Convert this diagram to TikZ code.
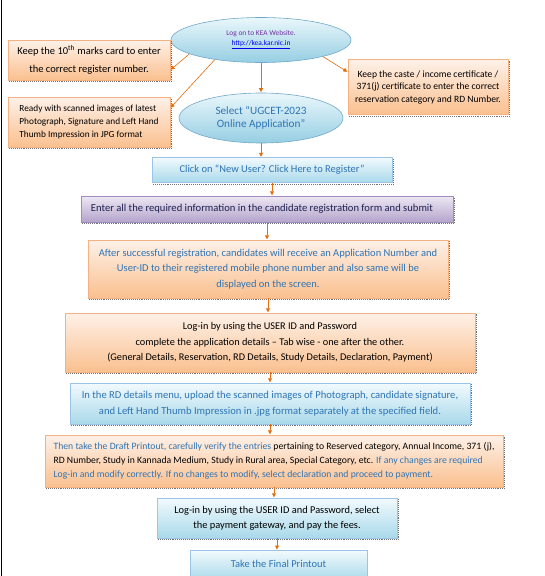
\documentclass[tikz,border=0pt]{standalone}
\usepackage{fontspec}
\setmainfont{Carlito}
\usetikzlibrary{shapes.geometric,arrows.meta,calc}
\definecolor{txtblue}{HTML}{2E74B5}
\definecolor{txtpurple}{HTML}{7030A0}
\definecolor{linkblue}{HTML}{0000EE}
\definecolor{arrorange}{HTML}{E46C0A}
\definecolor{otop}{HTML}{FEF1E8}
\definecolor{obot}{HTML}{FAC08F}
\definecolor{odraw}{HTML}{F4B183}
\definecolor{btop}{HTML}{F2FAFD}
\definecolor{bbot}{HTML}{A9D9EA}
\definecolor{bdraw}{HTML}{9DC3E6}
\definecolor{ptop}{HTML}{EDE8F3}
\definecolor{pbot}{HTML}{B4A4CB}
\definecolor{pdraw}{HTML}{A08CC0}
\definecolor{ptext}{HTML}{1F1F4F}
\definecolor{etop}{HTML}{EAF7FB}
\definecolor{ebot}{HTML}{96CEE3}
\definecolor{edraw}{HTML}{6FA8C8}
\newcommand\boxshadow[1]{%
  \draw[shadowline] ($(#1.south west)+(1.5,1.2)$) -- ($(#1.south east)+(1.2,1.2)$) -- ($(#1.north east)+(1.2,1.5)$);}
\begin{document}
\begin{tikzpicture}[x=1pt,y=-1pt,
  base/.style={rectangle, inner sep=0pt, align=center, line width=0.5pt},
  obox/.style={base, draw=odraw, top color=otop, bottom color=obot},
  bbox/.style={base, draw=bdraw, top color=btop, bottom color=bbot},
  pbox/.style={base, draw=pdraw, top color=ptop, bottom color=pbot},
  ell/.style={ellipse, inner sep=0pt, align=center, draw=edraw, line width=0.6pt, top color=etop, bottom color=ebot},
  shadowline/.style={densely dotted, line width=0.9pt, black!55},
  arr/.style={draw=arrorange, line width=0.6pt, -{Triangle[width=4pt,length=4pt]}, shorten >=0.5pt},
  bodyfont/.style={font=\fontsize{10.5}{15.5}\selectfont}
]
\useasboundingbox (0,0) rectangle (544,576);
\clip (0,0) rectangle (544,576);
\draw[black, line width=1pt] (1.5,0) -- (1.5,576);

% top ellipses
\node[ell, minimum width=180, minimum height=45, font=\fontsize{7.4}{10}\selectfont] (e1) at (261,40)
  {\textcolor{txtpurple}{Log on to KEA Website.}\\ \textcolor{linkblue}{\underline{http://kea.kar.nic.in}}};
\node[ell, minimum width=164, minimum height=50, font=\fontsize{11.2}{12.5}\selectfont, text=txtblue] (e2) at (261,118)
  {Select “UGCET-2023\\Online Application”};

% side boxes
\node[obox, minimum width=162, minimum height=40, font=\fontsize{10.5}{18}\selectfont] (a) at (89,60)
  {Keep the 10\textsuperscript{th} marks card to enter\\the correct register number.};
\boxshadow{a}
\node[obox, minimum width=162, minimum height=50, font=\fontsize{9.3}{13}\selectfont, align=left] (b) at (89,122)
  {Ready with scanned images of latest\\Photograph, Signature and Left Hand\\Thumb Impression in JPG format};
\boxshadow{b}
\node[obox, minimum width=160, minimum height=55, font=\fontsize{9.6}{12.5}\selectfont] (c) at (428,87)
  {Keep the caste / income certificate /\\371(j) certificate to enter the correct\\reservation category and RD Number.};
\boxshadow{c}

% main column
\node[bbox, minimum width=240, minimum height=25, bodyfont, text=txtblue] (d) at (272,170)
  {Click on “New User? Click Here to Register”};
\boxshadow{d}
\node[pbox, minimum width=372, minimum height=26, font=\fontsize{10.6}{15}\selectfont, text=ptext] (e) at (267,209)
  {\hspace*{-10pt}Enter all the required information in the candidate registration form and submit};
\boxshadow{e}
\node[obox, minimum width=360, minimum height=58, bodyfont, text=txtblue] (f) at (268,269)
  {After successful registration, candidates will receive an Application Number and\\User-ID to their registered mobile phone number and also same will be\\displayed on the screen.};
\boxshadow{f}
\node[obox, minimum width=410, minimum height=59, font=\fontsize{10.3}{15.5}\selectfont] (g) at (270,342.5)
  {Log-in by using the USER ID and Password\\complete the application details – Tab wise - one after the other.\\(General Details, Reservation, RD Details, Study Details, Declaration, Payment)};
\boxshadow{g}
\node[bbox, minimum width=400, minimum height=41, font=\fontsize{10.6}{16}\selectfont, text=txtblue] (h) at (270,403.5)
  {In the RD details menu, upload the scanned images of Photograph, candidate signature,\\and Left Hand Thumb Impression in .jpg format separately at the specified field.};
\boxshadow{h}
\node[obox, minimum width=458, minimum height=52, font=\fontsize{9.7}{14}\selectfont, align=left] (i) at (274,461)
  {\textcolor{txtblue}{Then take the Draft Printout, carefully verify the entries} pertaining to Reserved category, Annual Income, 371 (j),\\
   RD Number, Study in Kannada Medium, Study in Rural area, Special Category, etc. \textcolor{txtblue}{If any changes are required}\\
   \textcolor{txtblue}{Log-in and modify correctly. If no changes to modify, select declaration and proceed to payment.}};
\boxshadow{i}
\node[bbox, minimum width=240, minimum height=40, font=\fontsize{10.4}{15}\selectfont] (j) at (277,518)
  {Log-in by using the USER ID and Password, select\\the payment gateway, and pay the fees.};
\boxshadow{j}
\node[bbox, minimum width=177, minimum height=30, bodyfont, text=txtblue, anchor=north] (k) at (278.5,550)
  {\raisebox{0pt}[0pt][0pt]{\raisebox{-2pt}{Take the Final Printout}}};

% connectors
\draw[arr] (e1.191) -- ($(a.east)+(0,10)$);
\draw[arr] (e1.203) -- ($(b.east)+(0,-14)$);
\draw[arr] (e1.south) -- (e2.north);
\draw[arr] (e1.345) -- ($(c.west)+(0,-15)$);
\draw[arr] (e2.south) -- (e2.south |- d.north);
\draw[arr] (d.south) -- (d.south |- e.north);
\draw[arr] (e.south) -- (e.south |- f.north);
\draw[arr] (f.south) -- (f.south |- g.north);
\draw[arr] (g.south) -- (g.south |- h.north);
\draw[arr] (h.south) -- (h.south |- i.north);
\draw[arr] (i.south) -- (i.south |- j.north);
\draw[arr] (j.south) -- (j.south |- k.north);
\end{tikzpicture}
\end{document}
